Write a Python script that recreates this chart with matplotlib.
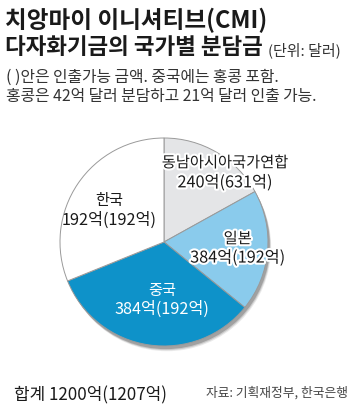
import matplotlib.pyplot as plt
import matplotlib.patheffects as pe
from matplotlib.patches import Circle

plt.rcParams['font.family'] = ['Noto Sans CJK KR', 'DejaVu Sans']

# slices, clockwise from the top
names = ['동남아시아국가연합', '일본', '중국', '한국']
paid = [240, 384, 384, 192]        # 분담금 (억 달러)
drawable = [631, 192, 192, 192]    # 인출가능 금액 (억 달러)
# the drawing is not to scale: slice sizes (degrees)
slice_deg = [61, 68, 119, 112]
colors = ['#e4e5e7', '#8acbec', '#0e92c9', '#ffffff']
total_paid, total_draw = 1200, 1207

W, H = 350, 412
fig = plt.figure(figsize=(W / 100, H / 100), dpi=100)
fig.patch.set_facecolor('white')

cx, cy, r = 164, 242, 130
ax = fig.add_axes([(cx - r) / W, (H - cy - r) / H, 2 * r / W, 2 * r / H])
ax.set_xlim(-1, 1)
ax.set_ylim(-1, 1)
ax.axis('off')

# soft shadow to the lower right
for off, a in [(0.05, 0.15), (0.04, 0.25), (0.03, 0.45)]:
    ax.add_patch(Circle((off * 0.6, -off), 1.0, color='#707070', alpha=a, lw=0, zorder=0))

wedges, _ = ax.pie(slice_deg, colors=colors, startangle=90, counterclock=False,
                   radius=1.0, wedgeprops=dict(edgecolor='#9a9a9a', linewidth=0.7))
for w in wedges:
    w.set_zorder(1)

def px(x, y):
    return (x - cx) / r, (cy - y) / r

halo = [pe.withStroke(linewidth=3, foreground='white')]
label_pos = [(240, 143, 168), (256, 238, 262), (162, 302, 326), (95, 190, 215)]
label_col = ['#1a1a1a', '#1a1a1a', 'white', '#1a1a1a']
for i, (x, y1, y2) in enumerate(label_pos):
    eff = halo if i < 2 else None
    tx, ty = px(x, y1)
    ax.text(tx, ty, names[i], ha='center', va='center', fontsize=11,
            color=label_col[i], path_effects=eff, zorder=3)
    tx, ty = px(x, y2)
    ax.text(tx, ty, f'{paid[i]}억({drawable[i]}억)', ha='center', va='center',
            fontsize=11.7, color=label_col[i], path_effects=eff, zorder=3)

def ft(x, y, s, **kw):
    fig.text(x / W, 1 - y / H, s, va='center', **kw)

ft(5, 20, '치앙마이 이니셔티브(CMI)', fontsize=17, fontweight='heavy', color='#1a1a1a')
ft(5, 48, '다자화기금의 국가별 분담금', fontsize=16.2, fontweight='heavy', color='#1a1a1a')
ft(268, 50, '(단위: 달러)', fontsize=10.8, color='#333333')
ft(6, 77, '( )안은 인출가능 금액. 중국에는 홍콩 포함.', fontsize=11.4, color='#333333')
ft(6, 97, '홍콩은 42억 달러 분담하고 21억 달러 인출 가능.', fontsize=11.4, color='#333333')
ft(14, 395, f'합계 {total_paid}억({total_draw}억)', fontsize=12.2, fontweight='medium', color='#1a1a1a')
fig.text(348 / W, 1 - 393 / H, '자료: 기획재정부, 한국은행', ha='right', va='center',
         fontsize=9.2, color='#444444')

fig.savefig('out.png', dpi=100)
